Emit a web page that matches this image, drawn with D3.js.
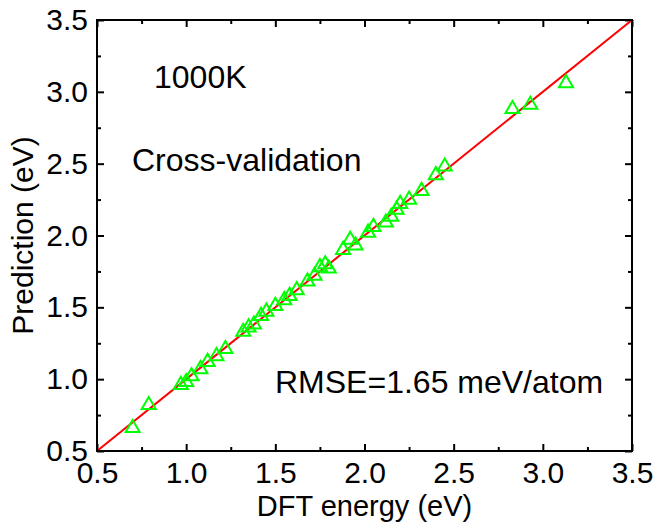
<!DOCTYPE html>
<html>
<head>
<meta charset="utf-8">
<script src="https://cdn.jsdelivr.net/npm/d3@7"></script>
<style>
  body { margin: 0; background: #fff; }
  text { font-family: "Liberation Sans", Arial, sans-serif; fill: #000; }
</style>
</head>
<body>
<svg width="654" height="523"></svg>
<script>
// DFT energy vs predicted energy (eV)
var dftEnergy = [0.70, 0.79, 0.97, 1.00, 1.03, 1.08, 1.12, 1.17, 1.22, 1.32, 1.35, 1.38,
  1.42, 1.45, 1.50, 1.55, 1.58, 1.62, 1.68, 1.72, 1.75, 1.78, 1.80, 1.88, 1.92, 1.95,
  2.02, 2.05, 2.12, 2.15, 2.18, 2.20, 2.25, 2.32, 2.40, 2.45, 2.83, 2.93, 3.13];
var predicted = [0.66, 0.82, 0.96, 0.98, 1.02, 1.07, 1.12, 1.16, 1.21, 1.33, 1.36, 1.38,
  1.44, 1.47, 1.51, 1.55, 1.58, 1.62, 1.68, 1.72, 1.78, 1.80, 1.77, 1.90, 1.97, 1.93,
  2.02, 2.06, 2.09, 2.13, 2.18, 2.22, 2.25, 2.31, 2.42, 2.48, 2.88, 2.91, 3.06];
var tickValues = [0.5, 1.0, 1.5, 2.0, 2.5, 3.0, 3.5];
var minorTicks = d3.range(0.75, 3.5, 0.5);
var labels = ["1000K", "Cross-validation", "RMSE=1.65 meV/atom"];

var svg = d3.select('svg');
var pLeft = 97, pRight = 632, pTop = 20, pBottom = 451;

var x = d3.scaleLinear().domain([0.5, 3.5]).range([pLeft, pRight]);
var y = d3.scaleLinear().domain([0.5, 3.5]).range([pBottom, pTop]);

// inward ticks on every side
function ticksOn(axisFn, scale, pos, major, minor) {
  var g = svg.append('g').attr('transform', pos);
  g.call(axisFn(scale).tickValues(tickValues).tickSize(-major).tickFormat(''));
  g.append('g').call(axisFn(scale).tickValues(minorTicks).tickSize(-minor).tickFormat(''));
  g.selectAll('.domain').remove();
  g.selectAll('line').attr('stroke', '#000').attr('stroke-width', 2);
}
ticksOn(d3.axisBottom, x, `translate(0,${pBottom})`, 7, 4);
ticksOn(d3.axisTop, x, `translate(0,${pTop})`, 7, 4);
ticksOn(d3.axisLeft, y, `translate(${pLeft},0)`, 7, 4);
ticksOn(d3.axisRight, y, `translate(${pRight},0)`, 7, 4);

// tick labels
svg.append('g').attr('transform', `translate(0,${pBottom})`)
  .call(d3.axisBottom(x).tickValues(tickValues).tickSize(0).tickPadding(11).tickFormat(d3.format('.1f')))
  .call(g => g.select('.domain').remove())
  .selectAll('text').style('font-size', '30px');
svg.append('g').attr('transform', `translate(${pLeft},0)`)
  .call(d3.axisLeft(y).tickValues(tickValues).tickSize(0).tickPadding(9).tickFormat(d3.format('.1f')))
  .call(g => g.select('.domain').remove())
  .selectAll('text').style('font-size', '30px');

// y = x reference line
svg.append('line')
  .attr('x1', x(0.5)).attr('y1', y(0.5))
  .attr('x2', x(3.5)).attr('y2', y(3.5))
  .attr('stroke', '#ff0000').attr('stroke-width', 2);

// data triangles
var tri = d3.symbol().type(d3.symbolTriangle).size(85);
svg.selectAll('path.pt')
  .data(dftEnergy)
  .enter()
  .append('path')
  .attr('class', 'pt')
  .attr('d', tri)
  .attr('transform', (d, i) => `translate(${x(d)},${y(predicted[i])})`)
  .attr('fill', 'none')
  .attr('stroke', '#00ff00')
  .attr('stroke-width', 2);

// frame
svg.append('rect')
  .attr('x', pLeft).attr('y', pTop)
  .attr('width', pRight - pLeft).attr('height', pBottom - pTop)
  .attr('fill', 'none').attr('stroke', '#000').attr('stroke-width', 2);

// annotations
svg.append('text').attr('x', 154).attr('y', 88).style('font-size', '32px').text(labels[0]);
svg.append('text').attr('x', 132).attr('y', 171).style('font-size', '32px').text(labels[1]);
svg.append('text').attr('x', 275).attr('y', 393).style('font-size', '32px').text(labels[2]);

// axis titles
svg.append('text').attr('x', (pLeft + pRight) / 2).attr('y', 516)
  .attr('text-anchor', 'middle').style('font-size', '29px').text('DFT energy (eV)');
svg.append('text').attr('transform', `translate(33,${(pTop + pBottom) / 2}) rotate(-90)`)
  .attr('text-anchor', 'middle').style('font-size', '30px').text('Prediction (eV)');
</script>
</body>
</html>
